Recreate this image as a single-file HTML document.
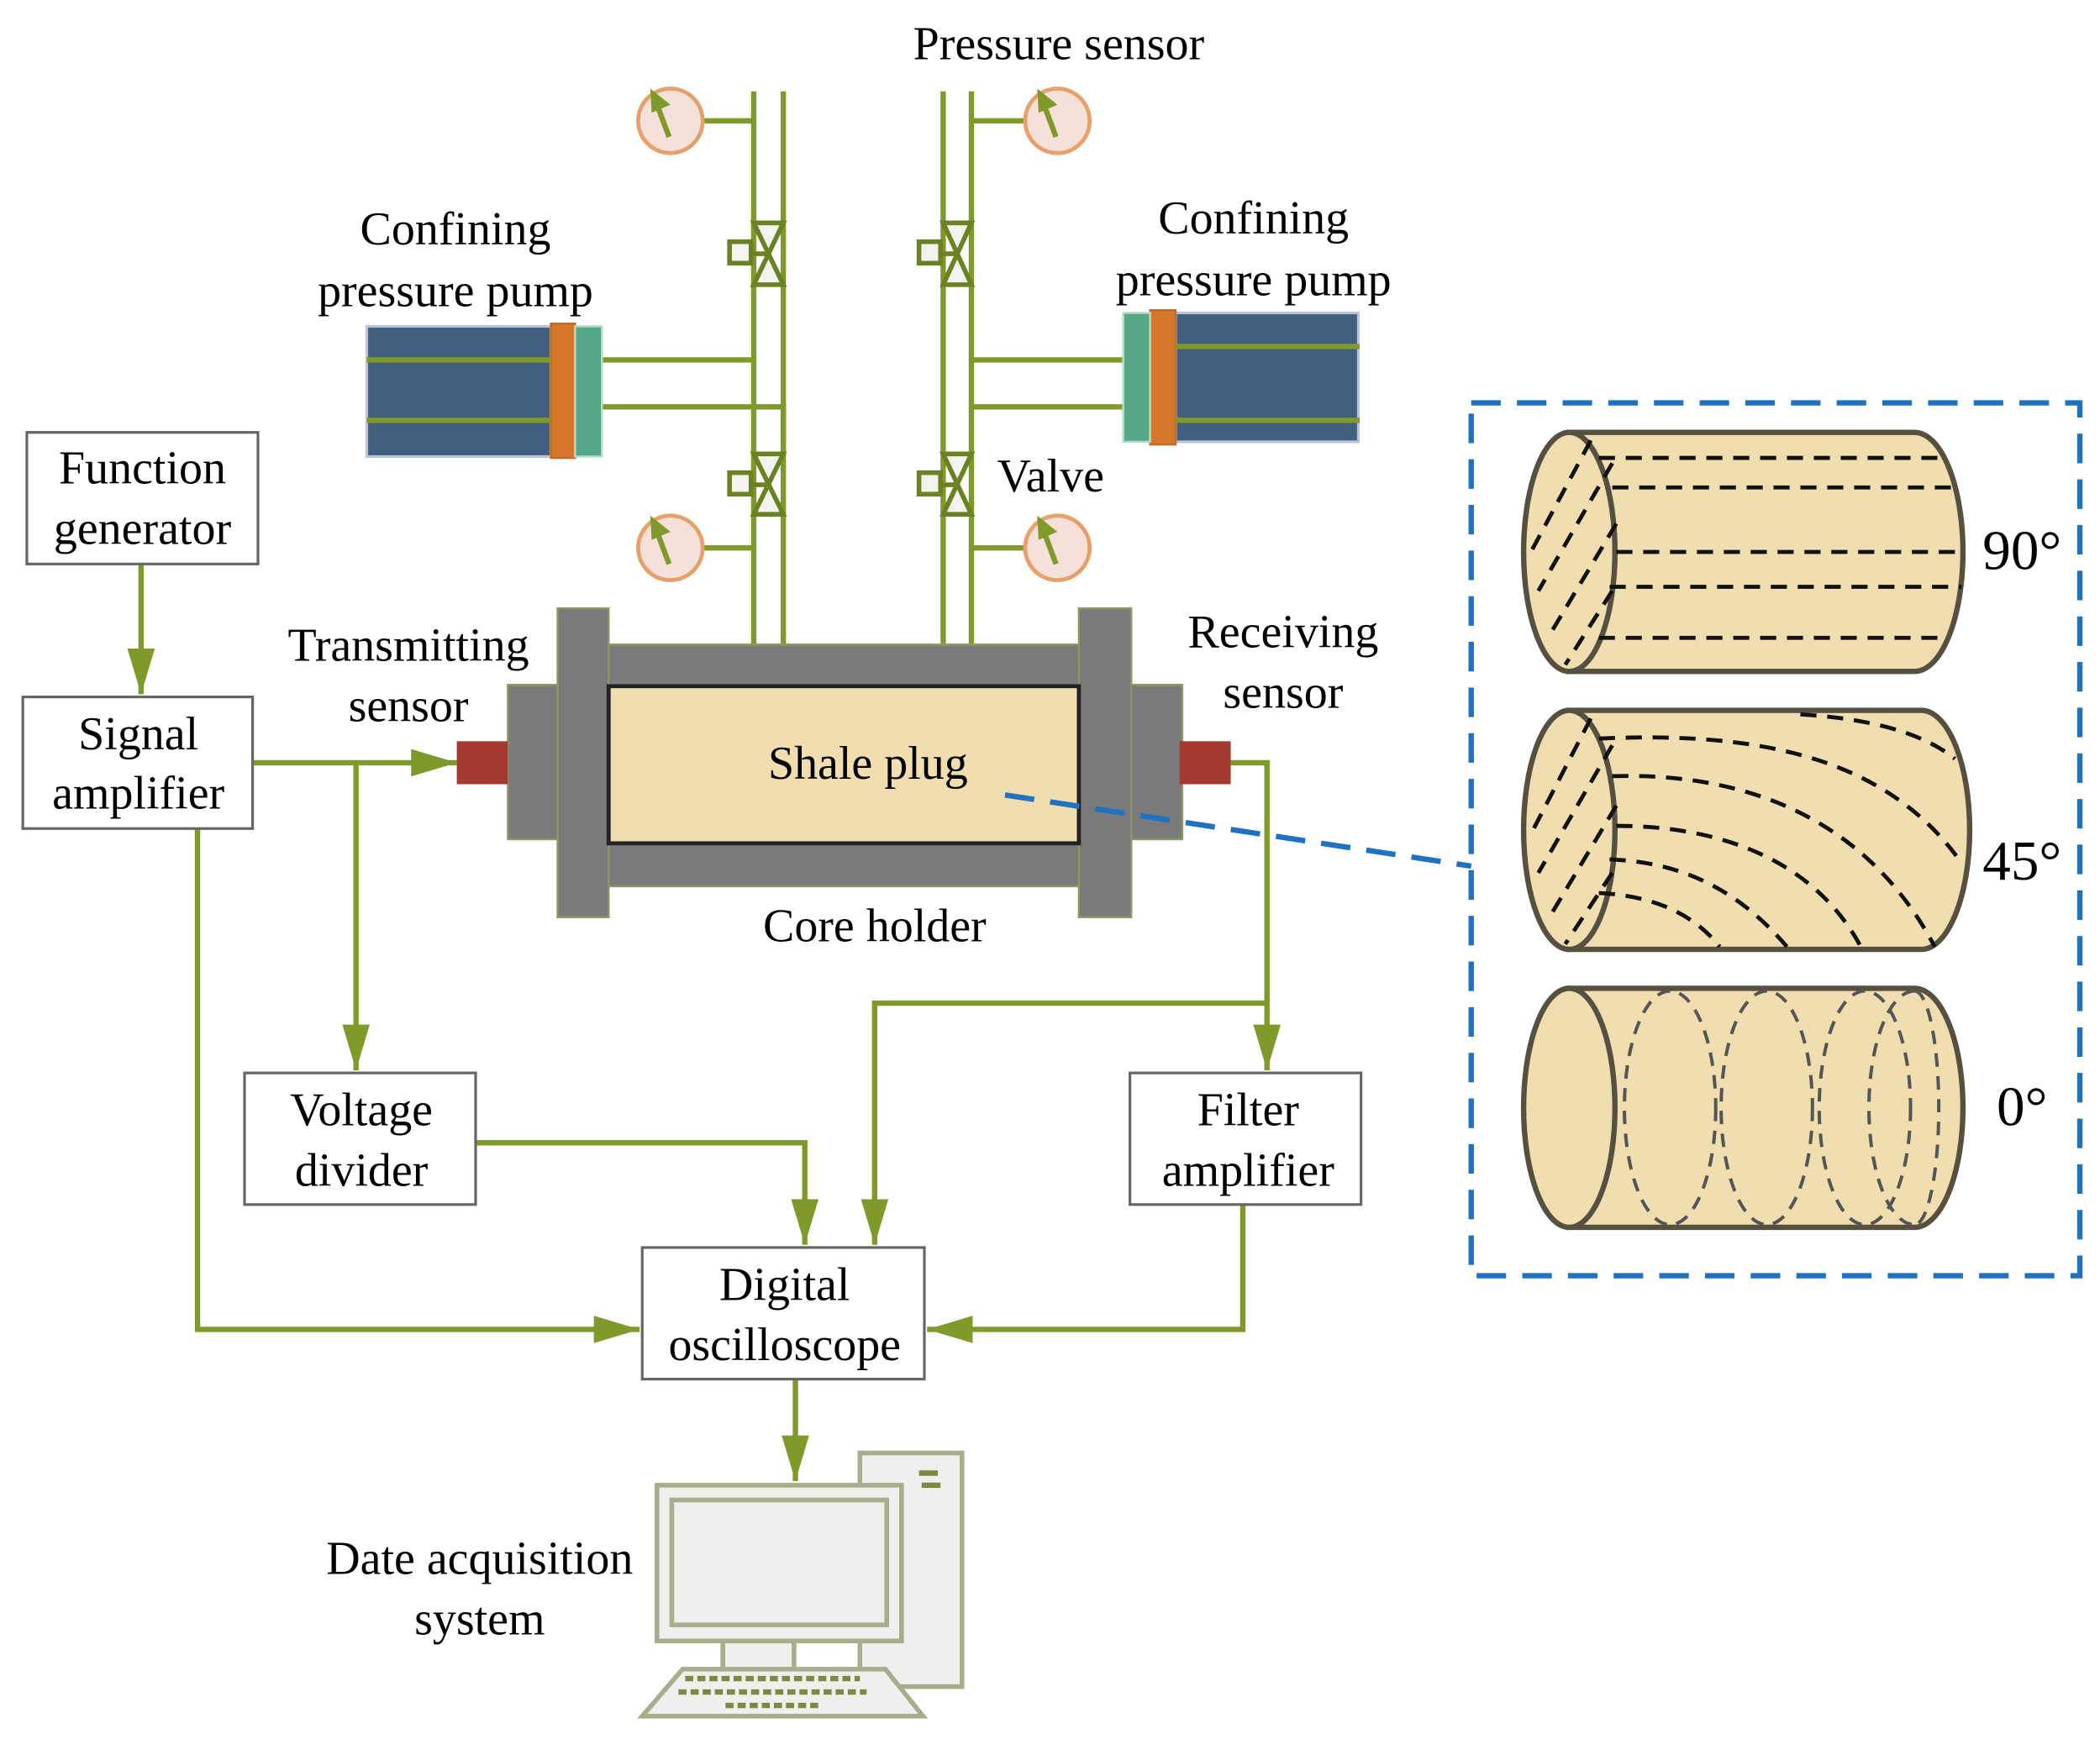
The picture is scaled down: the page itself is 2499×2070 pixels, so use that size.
<!DOCTYPE html>
<html><head><meta charset="utf-8"><style>html,body{margin:0;padding:0;background:#fff}svg{display:block}text{font-family:"Liberation Serif",serif}</style></head><body>
<svg width="2499" height="2070" viewBox="0 0 1563 1295" preserveAspectRatio="none" xmlns="http://www.w3.org/2000/svg" font-size="35" fill="#000">
<defs>
<marker id="ab" viewBox="0 0 10 10" refX="10" refY="5" markerWidth="34" markerHeight="34" orient="auto" markerUnits="userSpaceOnUse"><path d="M0,2 L10,5 L0,8z" fill="#7f9a2a"/></marker>
</defs>
<g stroke="#7f9a2a" stroke-width="4" fill="none">
<path d="M561,68V480M583,68V480M702,68V480M723,68V480"/>
<path d="M523,90H561M723,90H763M523,408H561M723,408H763"/>
<path d="M448,268H561M448,303H583V330M723,268H836M723,303H836"/>
<path d="M105,420V517" marker-end="url(#ab)"/>
<path d="M188,568H340" marker-end="url(#ab)"/>
<path d="M265,568V797" marker-end="url(#ab)"/>
<path d="M147,617V990H476" marker-end="url(#ab)"/>
<path d="M354,851H599V927" marker-end="url(#ab)"/>
<path d="M916,568H943V797" marker-end="url(#ab)"/>
<path d="M943,747H651V927" marker-end="url(#ab)"/>
<path d="M925,897V990H690" marker-end="url(#ab)"/>
<path d="M592,1027V1103" marker-end="url(#ab)"/>
</g>
<g stroke="#e8a06a" stroke-width="3" fill="#f5e0da">
<circle cx="499" cy="90" r="24"/><circle cx="787" cy="90" r="24"/><circle cx="499" cy="408" r="24"/><circle cx="787" cy="408" r="24"/>
</g>
<g stroke="#7f9a2a" stroke-width="4" fill="#7f9a2a">
<path d="M498,102L489,78"/><path d="M484,66l15,12l-14,6z" stroke="none"/>
<path d="M786,102L777,78"/><path d="M772,66l15,12l-14,6z" stroke="none"/>
<path d="M498,420L489,396"/><path d="M484,384l15,12l-14,6z" stroke="none"/>
<path d="M786,420L777,396"/><path d="M772,384l15,12l-14,6z" stroke="none"/>
</g>
<g stroke="#6b8224" stroke-width="3.5" fill="#f2f2ee">
<path d="M561,166H583L561,212H583Z"/><rect x="543" y="180" width="16" height="16"/><path d="M559,189H572"/>
<path d="M702,166H723L702,212H723Z"/><rect x="684" y="180" width="16" height="16"/><path d="M700,189H712"/>
<path d="M561,338H583L561,383H583Z"/><rect x="543" y="352" width="16" height="16"/><path d="M559,361H572"/>
<path d="M702,338H723L702,383H723Z"/><rect x="684" y="352" width="16" height="16"/><path d="M700,361H712"/>
</g>
<rect x="273" y="243" width="137" height="97" fill="#425f80" stroke="#b9c6d6" stroke-width="2"/>
<rect x="410" y="241" width="18" height="100" fill="#d6762a" stroke="#c06a24" stroke-width="1.5"/>
<rect x="428" y="243" width="20" height="97" fill="#55a886" stroke="#b8dccc" stroke-width="1.5"/>
<path d="M273,268H410M273,313H410" stroke="#7f9a2a" stroke-width="4"/>
<rect x="875" y="233" width="136" height="96" fill="#425f80" stroke="#b9c6d6" stroke-width="2"/>
<rect x="856" y="231" width="19" height="100" fill="#d6762a" stroke="#c06a24" stroke-width="1.5"/>
<rect x="836" y="233" width="20" height="96" fill="#55a886" stroke="#b8dccc" stroke-width="1.5"/>
<path d="M875,258H1012M875,313H1012" stroke="#7f9a2a" stroke-width="4"/>
<g fill="#7a7a7a" stroke="#8a9a60" stroke-width="1.5">
<rect x="378" y="510" width="40" height="115"/><rect x="840" y="510" width="40" height="115"/>
<rect x="450" y="480" width="356" height="180"/>
<rect x="415" y="453" width="38" height="230"/><rect x="803" y="453" width="39" height="230"/>
</g>
<rect x="453" y="511" width="350" height="117" fill="#f0deb0" stroke="#222" stroke-width="3"/>
<rect x="340" y="552" width="38" height="32" fill="#a23a32"/>
<rect x="878" y="552" width="38" height="32" fill="#a23a32"/>
<g fill="#fff" stroke="#666" stroke-width="2">
<rect x="20" y="322" width="172" height="98"/><rect x="17" y="519" width="171" height="98"/>
<rect x="182" y="799" width="172" height="98"/><rect x="841" y="799" width="172" height="98"/>
<rect x="478" y="929" width="210" height="98"/>
</g>
<rect x="1095" y="300" width="453" height="650" fill="none" stroke="#1f72c0" stroke-width="4" stroke-dasharray="22,12"/>
<path d="M748,592L1095,645" stroke="#1f72c0" stroke-width="4" stroke-dasharray="22,12"/>
<g stroke="#555040" stroke-width="4" fill="#f0deb0">
<path d="M1168,322H1425A36,89 0 0 1 1425,500H1168Z"/>
<ellipse cx="1168" cy="411" rx="34" ry="89"/>
<path d="M1168,529H1430A36,89 0 0 1 1430,707H1168Z"/>
<ellipse cx="1168" cy="618" rx="34" ry="89"/>
<path d="M1168,736H1425A36,89 0 0 1 1425,914H1168Z"/>
<ellipse cx="1168" cy="825" rx="34" ry="89"/>
</g>
<g stroke="#111" stroke-width="3" fill="none" stroke-dasharray="12,8">
<path d="M1190,341H1450M1200,363H1458M1203,411H1460M1198,437H1460M1190,475H1450"/>
<path d="M1184,328L1140,410M1200,345L1145,440M1203,390L1155,470M1200,440L1165,495"/>
<path d="M1184,535L1140,620M1200,555L1145,650M1203,600L1155,680M1200,650L1165,703"/>
<path d="M1190,550C1300,545 1400,560 1458,640M1200,578C1300,575 1390,610 1440,705M1203,615C1280,615 1350,640 1385,705M1198,640C1260,642 1300,670 1330,705M1190,665C1230,667 1260,680 1280,705"/>
<path d="M1340,532C1390,535 1430,545 1455,565"/>
</g>
<g stroke="#555" stroke-width="2.5" fill="none" stroke-dasharray="10,7">
<ellipse cx="1243" cy="825" rx="34" ry="87"/><ellipse cx="1315" cy="825" rx="34" ry="87"/>
<ellipse cx="1388" cy="825" rx="34" ry="87"/><path d="M1425,738A34,87 0 0 0 1425,912"/><path d="M1425,738A18,87 0 0 1 1425,912"/>
</g>
<g stroke="#a8ae8c" stroke-width="3.5" fill="#efefed">
<rect x="640" y="1082" width="76" height="174"/>
<rect x="489" y="1106" width="182" height="116"/>
<rect x="500" y="1117" width="160" height="93" fill="#eeeeec"/>
<rect x="538" y="1222" width="53" height="22"/>
<path d="M478,1278L508,1243H659L687,1278Z"/>
</g>
<path d="M684,1097h14M686,1106h14" stroke="#7a8a40" stroke-width="4"/>
<path d="M510,1250h130M505,1260h140M540,1270h70" stroke="#7a8a40" stroke-width="4" stroke-dasharray="6,3"/>
<g text-anchor="middle">
<text x="788" y="44">Pressure sensor</text>
<text x="339" y="182">Confining</text><text x="339" y="228">pressure pump</text>
<text x="933" y="174">Confining</text><text x="933" y="220">pressure pump</text>
<text x="782" y="366">Valve</text>
<text x="106" y="360">Function</text><text x="106" y="405">generator</text>
<text x="103" y="558">Signal</text><text x="103" y="602">amplifier</text>
<text x="304" y="492">Transmitting</text><text x="304" y="537">sensor</text>
<text x="955" y="482">Receiving</text><text x="955" y="527">sensor</text>
<text x="646" y="580">Shale plug</text>
<text x="651" y="701">Core holder</text>
<text x="269" y="838">Voltage</text><text x="269" y="883">divider</text>
<text x="929" y="838">Filter</text><text x="929" y="883">amplifier</text>
<text x="584" y="968">Digital</text><text x="584" y="1013">oscilloscope</text>
<text x="357" y="1172">Date acquisition</text><text x="357" y="1217">system</text>
<text x="1505" y="424" font-size="42">90°</text>
<text x="1505" y="655" font-size="42">45°</text>
<text x="1505" y="838" font-size="42">0°</text>
</g>
</svg>
</body></html>
